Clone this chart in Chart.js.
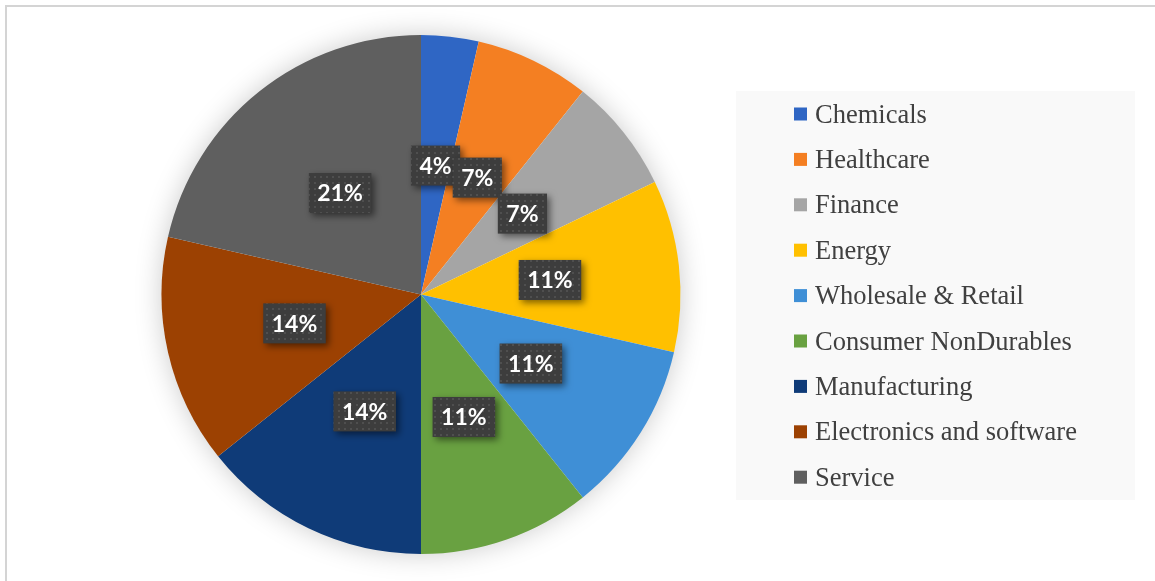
<!DOCTYPE html>
<html>
<head>
<meta charset="utf-8">
<script src="https://cdn.jsdelivr.net/npm/chart.js@4.4.0/dist/chart.umd.min.js"></script>
<style>
  html, body { margin: 0; padding: 0; background: #fff; overflow: hidden; }
  #frame { position: absolute; left: 5px; top: 5px; width: 1200px; height: 640px; border: 2px solid #d4d4d4; }
  #pie { position: absolute; left: 0; top: 0; }
</style>
</head>
<body>
<div id="frame"></div>
<canvas id="pie" width="1155" height="581"></canvas>
<script>
// secteurs (nombre d'entreprises par secteur)
const sectors = ['Chemicals', 'Healthcare', 'Finance', 'Energy', 'Wholesale & Retail',
  'Consumer NonDurables', 'Manufacturing', 'Electronics and software', 'Service'];
const counts = [1, 2, 2, 3, 3, 3, 4, 4, 6];
const sectorColors = ['#2f66c4', '#f47f22', '#a5a5a5', '#ffc000', '#3f8fd6',
  '#69a141', '#0f3b78', '#9c4102', '#5f5f5f'];

// petit motif pointillé pour les étiquettes
function dotPattern(ctx) {
  const c = document.createElement('canvas');
  c.width = 6; c.height = 6;
  const p = c.getContext('2d');
  p.fillStyle = '#3d3d3d';
  p.fillRect(0, 0, 6, 6);
  p.fillStyle = '#4f4f4f';
  p.fillRect(2, 2, 2, 2);
  return ctx.createPattern(c, 'repeat');
}

const pieGlow = {
  id: 'pieGlow',
  beforeDatasetsDraw(chart) {
    const arc = chart.getDatasetMeta(0).data[0];
    if (!arc) return;
    const ctx = chart.ctx;
    ctx.save();
    ctx.shadowColor = 'rgba(0,0,0,0.22)';
    ctx.shadowBlur = 28;
    ctx.fillStyle = '#ffffff';
    ctx.beginPath();
    ctx.arc(arc.x, arc.y, arc.outerRadius - 1, 0, Math.PI * 2);
    ctx.fill();
    ctx.restore();
  }
};

const pctLabels = {
  id: 'pctLabels',
  afterDatasetsDraw(chart) {
    const ctx = chart.ctx;
    const total = counts.reduce((a, b) => a + b, 0);
    const pattern = dotPattern(ctx);
    ctx.save();
    ctx.font = 'bold 23px Lato';
    chart.getDatasetMeta(0).data.forEach((arc, i) => {
      const { x, y } = arc.tooltipPosition();
      const txt = Math.round(counts[i] / total * 100) + '%';
      const w = ctx.measureText(txt).width + 17;
      const h = 40;
      ctx.save();
      ctx.shadowColor = 'rgba(0,0,0,0.5)';
      ctx.shadowBlur = 7;
      ctx.shadowOffsetX = 3;
      ctx.shadowOffsetY = 3;
      ctx.fillStyle = pattern;
      ctx.fillRect(x - w / 2, y - h / 2, w, h);
      ctx.restore();
      ctx.fillStyle = '#ffffff';
      ctx.textAlign = 'center';
      ctx.textBaseline = 'middle';
      ctx.fillText(txt, x, y + 1);
    });
    ctx.restore();
  }
};

const sideLegend = {
  id: 'sideLegend',
  afterDraw(chart) {
    const ctx = chart.ctx;
    ctx.save();
    ctx.fillStyle = '#f9f9f9';
    ctx.fillRect(736, 91, 399, 409);
    ctx.font = '26.5px "Liberation Serif"';
    ctx.textBaseline = 'alphabetic';
    ctx.textAlign = 'left';
    chart.data.labels.forEach((lab, i) => {
      const cy = 114 + i * 45.4;
      ctx.fillStyle = chart.data.datasets[0].backgroundColor[i];
      ctx.fillRect(794, cy - 6.5, 13, 13);
      ctx.fillStyle = '#404040';
      ctx.fillText(lab, 815, cy + 8.5);
    });
    ctx.restore();
  }
};

new Chart(document.getElementById('pie').getContext('2d'), {
  type: 'pie',
  data: {
    labels: sectors,
    datasets: [{
      data: counts,
      backgroundColor: sectorColors,
      borderWidth: 0
    }]
  },
  options: {
    responsive: false,
    animation: false,
    layout: { padding: { left: 161, right: 474, top: 35, bottom: 27 } },
    plugins: {
      legend: { display: false },
      tooltip: { enabled: false }
    }
  },
  plugins: [pieGlow, pctLabels, sideLegend]
});
</script>
</body>
</html>
